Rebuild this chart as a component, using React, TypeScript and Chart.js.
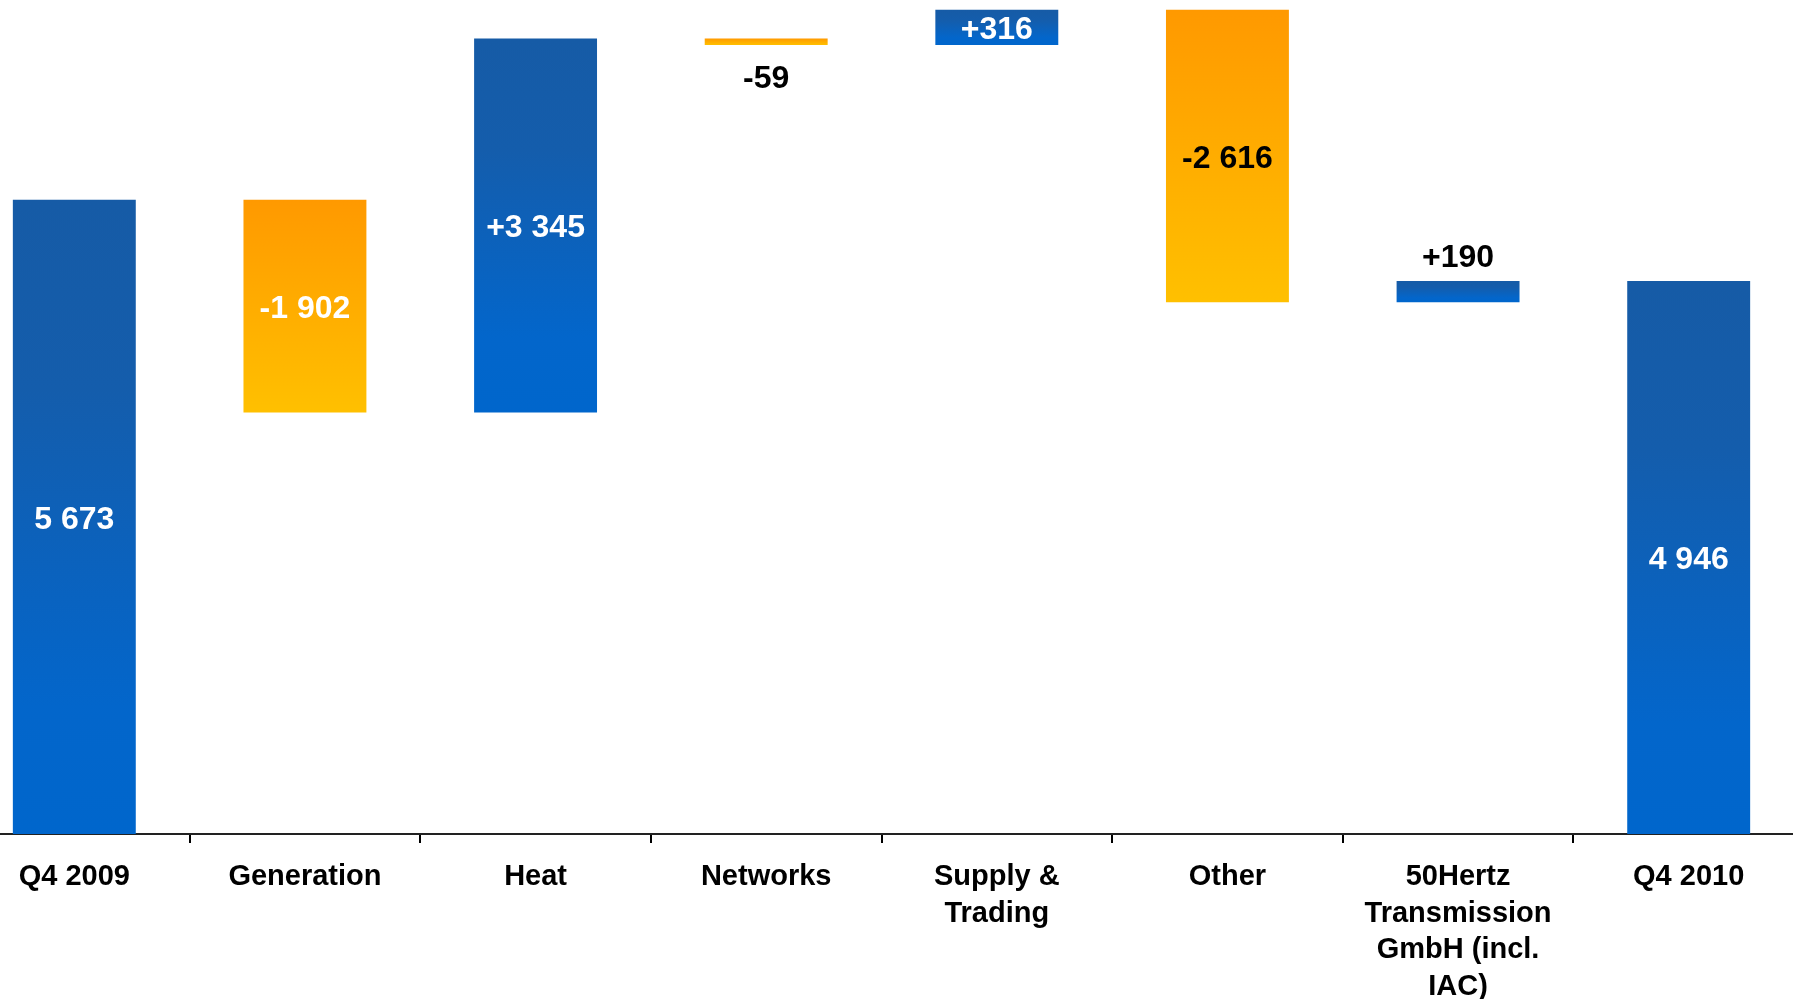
import React, { useEffect, useRef } from "react";
import { Chart, registerables } from "chart.js";

Chart.register(...registerables);

// ---- data ----
const categories = [
  "Q4 2009",
  "Generation",
  "Heat",
  "Networks",
  "Supply & Trading",
  "Other",
  "50Hertz Transmission GmbH (incl. IAC)",
  "Q4 2010",
];
const tickLabels: (string | string[])[] = [
  "Q4 2009",
  "Generation",
  "Heat",
  "Networks",
  ["Supply &", "Trading"],
  "Other",
  ["50Hertz", "Transmission", "GmbH (incl.", "IAC)"],
  "Q4 2010",
];
const startValue = 5673;
const deltaValues = [-1902, 3345, -59, 316, -2616, 190];
const endValue = 4946;

// ---- label styles ----
const labelColors = ["#ffffff", "#ffffff", "#ffffff", "#000000", "#ffffff", "#000000", "#000000", "#ffffff"];
const labelPlacement = ["in", "in", "in", "below", "in", "in", "above", "in"];

function fmt(v: number, signed: boolean): string {
  const abs = Math.abs(v).toString().replace(/\B(?=(\d{3})+(?!\d))/g, " ");
  if (!signed) return abs;
  return (v < 0 ? "-" : "+") + abs;
}

const ranges: [number, number][] = [];
ranges.push([0, startValue]);
let running = startValue;
for (const d of deltaValues) {
  ranges.push([running, running + d]);
  running += d;
}
ranges.push([0, endValue]);

const labelTexts = [fmt(startValue, false), ...deltaValues.map((d) => fmt(d, true)), fmt(endValue, false)];
const isNegative = [false, ...deltaValues.map((d) => d < 0), false];

const FONT = '"Liberation Sans", Arial, Helvetica, sans-serif';

const valueLabelPlugin = {
  id: "valueLabels",
  afterDatasetsDraw(chart: any) {
    const ctx = chart.ctx as CanvasRenderingContext2D;
    const meta = chart.getDatasetMeta(0);
    ctx.save();
    ctx.font = `bold 32px ${FONT}`;
    ctx.textAlign = "center";
    meta.data.forEach((el: any, i: number) => {
      const { x, y, base } = el.getProps(["x", "y", "base"], true);
      const top = Math.min(y, base);
      const bottom = Math.max(y, base);
      ctx.fillStyle = labelColors[i];
      const p = labelPlacement[i];
      const text = labelTexts[i];
      if (p === "above") {
        ctx.textBaseline = "alphabetic";
        ctx.fillText(text, x, top - 14);
      } else if (p === "below") {
        ctx.textBaseline = "middle";
        ctx.fillText(text, x, bottom + 34);
      } else {
        ctx.textBaseline = "middle";
        ctx.fillText(text, x, (top + bottom) / 2 + 3);
      }
    });
    ctx.restore();
  },
};

export default function App() {
  const canvasRef = useRef<HTMLCanvasElement | null>(null);

  useEffect(() => {
    if (!canvasRef.current) return;
    const chart = new Chart(canvasRef.current, {
      type: "bar",
      data: {
        labels: tickLabels as any,
        datasets: [
          {
            label: "EBITDA",
            data: ranges as any,
            borderWidth: 0,
            categoryPercentage: 1,
            barPercentage: 0.533,
            backgroundColor: (c: any) => {
              const i = c.dataIndex;
              const neg = isNegative[i];
              const chartObj = c.chart;
              const raw = c.raw as [number, number] | undefined;
              if (!chartObj.chartArea || !raw || !chartObj.scales.y) return neg ? "#FFAA00" : "#0F62BA";
              const ys = chartObj.scales.y;
              const top = ys.getPixelForValue(Math.max(raw[0], raw[1]));
              const bot = ys.getPixelForValue(Math.min(raw[0], raw[1]));
              const g = chartObj.ctx.createLinearGradient(0, top, 0, Math.max(bot, top + 1));
              if (neg) {
                g.addColorStop(0, "#FF9900");
                g.addColorStop(1, "#FFC000");
              } else {
                g.addColorStop(0, "#165BA6");
                g.addColorStop(0.3, "#145DAC");
                g.addColorStop(0.8, "#0366CB");
                g.addColorStop(1, "#0066CC");
              }
              return g;
            },
          },
        ],
      },
      options: {
        responsive: false,
        animation: false,
        devicePixelRatio: 1,
        layout: { padding: 0 },
        plugins: {
          legend: { display: false },
          tooltip: { enabled: false },
          title: { display: false },
        },
        scales: {
          x: {
            offset: true,
            grid: {
              offset: true,
              drawOnChartArea: false,
              drawTicks: true,
              tickLength: 9,
              color: "#000000",
              lineWidth: 2,
            },
            border: { display: true, color: "#222222", width: 2 },
            ticks: {
              autoSkip: false,
              maxRotation: 0,
              minRotation: 0,
              padding: 16,
              color: "#000000",
              font: { family: FONT, size: 29, weight: "bold", lineHeight: 1.26 },
            },
            afterFit: (scale: any) => {
              scale.height = 165;
            },
          },
          y: {
            display: false,
            min: 0,
            max: 7460,
          },
        },
      },
      plugins: [valueLabelPlugin],
    });
    return () => chart.destroy();
  }, []);

  return (
    <div
      style={{
        position: "fixed",
        left: 0,
        top: 0,
        width: 1793,
        height: 999,
        overflow: "hidden",
        background: "#ffffff",
      }}
    >
      <canvas
        ref={canvasRef}
        width={1845}
        height={999}
        aria-label={categories.join(", ")}
        style={{ position: "absolute", left: -41, top: 0, width: 1845, height: 999 }}
      />
    </div>
  );
}
